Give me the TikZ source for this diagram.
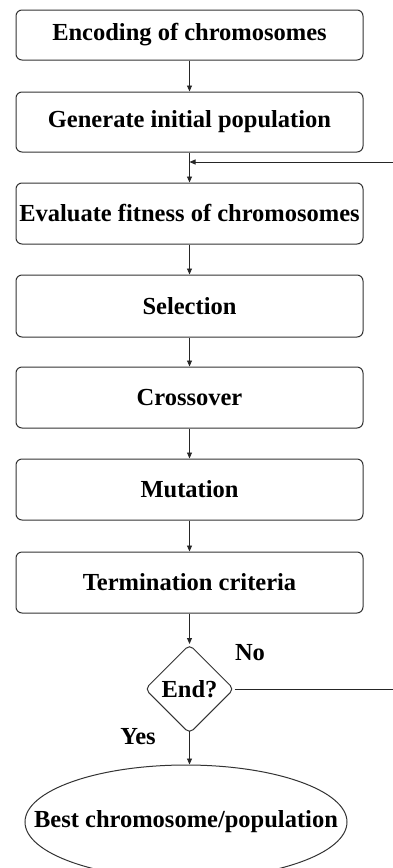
\documentclass[tikz,border=0pt]{standalone}
\usepackage{fontspec}
\setmainfont{Liberation Serif}
\usetikzlibrary{shapes.geometric,arrows.meta}
\begin{document}
\begin{tikzpicture}[x=1pt,y=-1pt,
 box/.style={draw=black!80,line width=1pt,rounded corners=6pt,minimum width=347pt,inner sep=0pt,fill=white},
 lbl/.style={font=\fontsize{24.5}{27}\selectfont\bfseries,inner sep=0pt},
 arr/.style={draw=black!85,line width=0.9pt,-{Triangle[length=6pt,width=5pt]}},
 ln/.style={draw=black!85,line width=0.9pt}]
\useasboundingbox (0,0) rectangle (393,868);
\clip (0,0) rectangle (393,868);
\node[box,minimum height=50pt,lbl] (b1) at (189.5,35) {Encoding of chromosomes};
\node[box,minimum height=60pt,lbl] (b2) at (189.5,122) {Generate initial population};
\node[box,minimum height=61pt,lbl] (b3) at (189.5,213.5) {Evaluate fitness of chromosomes};
\node[box,minimum height=62pt,lbl] (b4) at (189.5,306) {Selection};
\node[box,minimum height=61pt,lbl] (b5) at (189.5,397.5) {Crossover};
\node[box,minimum height=61pt,lbl] (b6) at (189.5,489.5) {Mutation};
\node[box,minimum height=61pt,lbl] (b7) at (189.5,582.5) {Termination criteria};
\node[diamond,aspect=1,draw=black!80,line width=1pt,rounded corners=5pt,minimum width=89pt,minimum height=89pt,inner sep=0pt,lbl] (d) at (189.5,689) {End?};
\node[ellipse,draw=black!80,line width=1pt,minimum width=322pt,minimum height=114pt] (e) at (186,822) {};
\node[lbl] (et) at (e.center) {Best chromosome/population};
\node[lbl] (no) at (250,653) {No};
\node[lbl] (yes) at (138,737) {Yes};
\coordinate (fb) at (189.5,162);
\coordinate (fbR) at (393,162);
\coordinate (noR) at (393,689);
\draw[arr] (b1) -- (b2);
\draw[arr] (b2) -- (b3);
\draw[arr] (fbR) -- (fb);
\draw[arr] (b3) -- (b4);
\draw[arr] (b4) -- (b5);
\draw[arr] (b5) -- (b6);
\draw[arr] (b6) -- (b7);
\draw[arr] (b7) -- (d);
\draw[ln] (d.east) -- (noR);
\draw[arr] ([yshift=3pt]d.south) -- (d.south |- e.north);
\end{tikzpicture}
\end{document}
